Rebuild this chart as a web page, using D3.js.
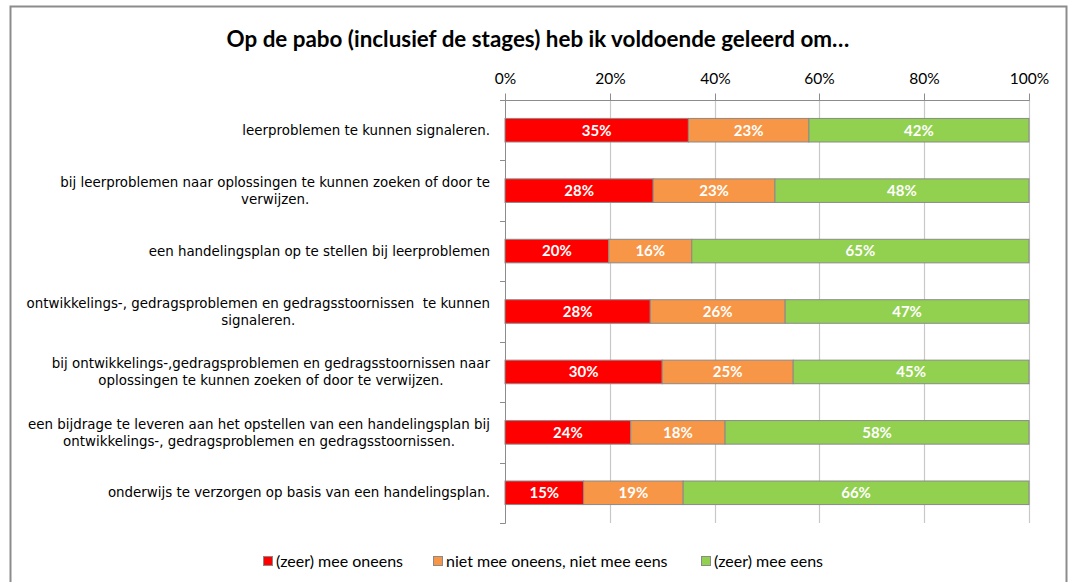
<!DOCTYPE html>
<html>
<head>
<meta charset="utf-8">
<script src="https://cdn.jsdelivr.net/npm/d3@7"></script>
<style>
  html, body { margin: 0; padding: 0; background: #fff; }
  svg { display: block; }
  text { white-space: pre; }
</style>
</head>
<body>
<svg id="chart" width="1072" height="582"></svg>
<script>
const title = "Op de pabo (inclusief de stages) heb ik voldoende geleerd om…";
const categories = [
  ["leerproblemen te kunnen signaleren."],
  ["bij leerproblemen naar oplossingen te kunnen zoeken of door te", "verwijzen."],
  ["een handelingsplan op te stellen bij leerproblemen"],
  ["ontwikkelings-, gedragsproblemen en gedragsstoornissen  te kunnen", "signaleren."],
  ["bij ontwikkelings-,gedragsproblemen en gedragsstoornissen naar", "oplossingen te kunnen zoeken of door te verwijzen."],
  ["een bijdrage te leveren aan het opstellen van een handelingsplan bij", "ontwikkelings-, gedragsproblemen en gedragsstoornissen."],
  ["onderwijs te verzorgen op basis van een handelingsplan."]
];
const seriesNames = ["(zeer) mee oneens", "niet mee oneens, niet mee eens", "(zeer) mee eens"];
const oneens = [35, 28, 20, 28, 30, 24, 15];
const neutraal = [23, 23, 16, 26, 25, 18, 19];
const eens = [42, 48, 65, 47, 45, 58, 66];
const tickValues = [0, 0.2, 0.4, 0.6, 0.8, 1.0];
const colors = ["#FF0000", "#F79646", "#92D050"];

const svg = d3.select("#chart");

// outer frame
svg.append("rect").attr("x", 10.5).attr("y", 6.5).attr("width", 1056).attr("height", 600)
  .attr("fill", "#fff").attr("stroke", "#8c8c8c").attr("stroke-width", 2);

// title
svg.append("text").attr("x", 538).attr("y", 47).attr("text-anchor", "middle")
  .attr("font-family", "Lato, 'Open Sans', sans-serif").attr("font-weight", "bold")
  .attr("font-size", 22.4).attr("fill", "#000").text(title);

const rows = categories.map((c, i) => ({ key: i, oneens: oneens[i], neutraal: neutraal[i], eens: eens[i] }));
const keys = ["oneens", "neutraal", "eens"];
const stack = d3.stack().keys(keys).offset(d3.stackOffsetExpand);
const stacked = stack(rows);

const x = d3.scaleLinear().domain([0, 1]).range([505, 1029]);
const y = d3.scaleBand().domain(d3.range(categories.length)).range([100, 523])
  .paddingInner(0.61).paddingOuter(0.305);

// gridlines
svg.append("g").selectAll("line").data(tickValues.slice(1)).join("line")
  .attr("x1", d => Math.round(x(d)) + 0.5).attr("x2", d => Math.round(x(d)) + 0.5)
  .attr("y1", 100).attr("y2", 523).attr("stroke", "#c8c8c8").attr("stroke-width", 1.2);

// top value axis
const xAxis = d3.axisTop(x).tickValues(tickValues).tickFormat(d3.format(".0%")).tickSize(7).tickPadding(10);
const gx = svg.append("g").attr("transform", "translate(0.5,100.5)").call(xAxis);
gx.select(".domain").attr("stroke", "#8c8c8c").attr("d", `M${x(0) - 5},0H${x(1)}`);
gx.selectAll(".tick line").attr("stroke", "#8c8c8c");
gx.selectAll(".tick text").attr("font-family", "Lato, 'Open Sans', sans-serif").attr("font-size", 15.5).attr("fill", "#000");
gx.selectAll(".tick").attr("transform", d => `translate(${Math.round(x(d))},0)`);

// left category axis (line + boundary ticks)
const step = y.step();
svg.append("line").attr("x1", 505.5).attr("x2", 505.5).attr("y1", 100).attr("y2", 523.5).attr("stroke", "#8c8c8c");
svg.append("g").selectAll("line").data(d3.range(categories.length + 1)).join("line")
  .attr("x1", 500).attr("x2", 505.5)
  .attr("y1", d => Math.round(100 + d * step) + 0.5).attr("y2", d => Math.round(100 + d * step) + 0.5)
  .attr("stroke", "#8c8c8c");

// bars
const gBars = svg.append("g");
stacked.forEach((s, si) => {
  gBars.append("g").selectAll("rect").data(s).join("rect")
    .attr("x", d => x(d[0])).attr("width", d => x(d[1]) - x(d[0]))
    .attr("y", (d, i) => y(i)).attr("height", y.bandwidth())
    .attr("fill", colors[si]).attr("stroke", "#8a8a8a").attr("stroke-width", 1);
  gBars.append("g").selectAll("text").data(s).join("text")
    .attr("x", d => (x(d[0]) + x(d[1])) / 2).attr("y", (d, i) => y(i) + y.bandwidth() / 2)
    .attr("dy", "0.36em").attr("text-anchor", "middle")
    .attr("font-family", "Lato, 'Open Sans', sans-serif").attr("font-weight", "bold")
    .attr("font-size", 15).attr("fill", "#fff")
    .text(d => d.data[keys[si]] + "%");
});

// category labels: block right-aligned at 490, lines centred within block
const gLab = svg.append("g");
categories.forEach((lines, i) => {
  const g = gLab.append("g");
  const cy = y(i) + y.bandwidth() / 2;
  const lh = 17;
  const texts = lines.map((l, j) => g.append("text")
    .attr("font-family", "'DejaVu Sans', Verdana, sans-serif").attr("font-size", 13.4).attr("fill", "#000")
    .attr("y", cy + (j - (lines.length - 1) / 2) * lh).attr("dy", "0.35em")
    .attr("text-anchor", "middle").text(l));
  const maxW = d3.max(texts, t => t.node().getComputedTextLength());
  texts.forEach(t => t.attr("x", 490 - maxW / 2));
});

// legend
const legendX = [263, 433, 701];
const gLeg = svg.append("g");
seriesNames.forEach((n, i) => {
  gLeg.append("rect").attr("x", legendX[i] + 0.5).attr("y", 556.5).attr("width", 9).attr("height", 9)
    .attr("fill", colors[i]).attr("stroke", "#8a8a8a");
  gLeg.append("text").attr("x", legendX[i] + 13).attr("y", 561).attr("dy", "0.36em")
    .attr("font-family", "Lato, 'Open Sans', sans-serif").attr("font-size", 16).attr("fill", "#000").text(n);
});
</script>
</body>
</html>
